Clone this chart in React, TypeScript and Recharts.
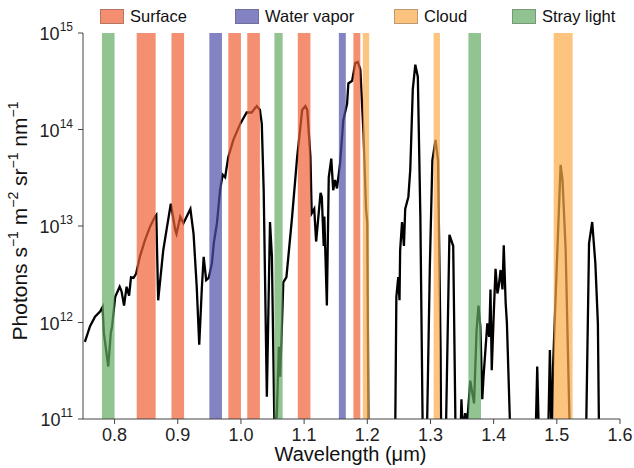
import React from "react";
import {
  ComposedChart,
  Line,
  XAxis,
  YAxis,
  ReferenceArea,
} from "recharts";

// spectrum, photons s-1 m-2 sr-1 nm-1 (5e10 / 1e10 = below the 1e11 floor, clipped)
const WAVELENGTH = [
  0.753, 0.761, 0.769, 0.777, 0.781, 0.783, 0.79, 0.794, 0.796, 0.801, 0.808, 0.811, 0.815, 0.819, 0.823,
  0.826, 0.83, 0.834, 0.84, 0.848, 0.856, 0.864, 0.866, 0.869, 0.877, 0.883, 0.889, 0.896, 0.898, 0.904,
  0.909, 0.914, 0.92, 0.925, 0.93, 0.934, 0.938, 0.941, 0.945, 0.949, 0.954, 0.957, 0.962, 0.967, 0.971,
  0.975, 0.98, 0.988, 0.999, 1.009, 1.017, 1.025, 1.03, 1.033, 1.036, 1.041, 1.046, 1.049, 1.0535, 1.057,
  1.06, 1.062, 1.065, 1.067, 1.072, 1.081, 1.089, 1.097, 1.102, 1.105, 1.11, 1.112, 1.116, 1.119, 1.126,
  1.128, 1.131, 1.132, 1.136, 1.139, 1.143, 1.146, 1.149, 1.152, 1.157, 1.162, 1.168, 1.17, 1.176, 1.181,
  1.185, 1.189, 1.194, 1.198, 1.2, 1.202, 1.222, 1.244, 1.246, 1.249, 1.251, 1.252, 1.255, 1.258, 1.26,
  1.265, 1.268, 1.272, 1.276, 1.28, 1.284, 1.288, 1.294, 1.299, 1.303, 1.308, 1.312, 1.316, 1.317, 1.324,
  1.33, 1.336, 1.34, 1.347, 1.349, 1.351, 1.355, 1.358, 1.363, 1.369, 1.373, 1.376, 1.379, 1.382, 1.384,
  1.387, 1.39, 1.393, 1.395, 1.397, 1.4, 1.403, 1.406, 1.408, 1.411, 1.414, 1.416, 1.419, 1.421, 1.427,
  1.447, 1.466, 1.469, 1.472, 1.486, 1.489, 1.492, 1.494, 1.5, 1.506, 1.509, 1.514, 1.521, 1.546, 1.551,
  1.556, 1.561, 1.565, 1.567,
];

const PHOTONS = [
  6.3e11, 9.1e11, 1.15e12, 1.3e12, 1.45e12, 7.8e11, 3.5e11, 7.8e11, 9.1e11, 1.85e12, 2.35e12, 2.1e12, 1.5e12, 2.35e12, 1.9e12,
  2.95e12, 2.9e12, 3.2e12, 4.8e12, 7.1e12, 9.8e12, 1.25e13, 1.3e13, 1.7e12, 5.6e12, 9.8e12, 1.7e13, 9.1e12, 8.3e12, 1.25e13,
  1.07e13, 1.25e13, 1.5e13, 8.3e12, 2.35e12, 5.9e11, 2.2e12, 4.8e12, 2.75e12, 2.9e12, 4.1e12, 6.6e12, 1.07e13, 2.35e13, 3.4e13,
  3.2e13, 5.2e13, 7.8e13, 1.15e14, 1.5e14, 1.5e14, 1.75e14, 1.6e14, 1.15e14, 2.35e13, 1.7e11, 1.1e13, 4.8e12, 5e10, 1.2e11,
  5.6e11, 2.75e11, 9.8e11, 2.6e12, 2.95e12, 1.25e13, 5.2e13, 1.6e14, 1.75e14, 1.6e14, 5.2e13, 1.35e13, 1.5e13, 6.9e12, 2.2e13,
  2e13, 6.2e12, 1.25e13, 1.5e12, 3.2e13, 5e13, 2.35e13, 3e13, 2.45e13, 4.5e13, 1.25e14, 1.85e14, 3e14, 3.2e14, 4.9e14,
  5e14, 4.2e14, 9.1e13, 1.5e13, 1.07e13, 5e10, 1e10, 5e10, 1.85e12, 2.95e12, 1.7e12, 5.6e12, 1.1e13, 6.2e12, 1.5e13,
  2e13, 3.8e13, 2.6e14, 4.7e14, 3.5e14, 1.25e13, 5e10, 5e10, 3.8e12, 4.8e13, 7.8e13, 4.8e13, 5.2e11, 5e10, 5e10,
  8.1e12, 6.2e12, 5e10, 5e10, 1.6e11, 8e10, 1.15e11, 9e10, 2.5e11, 1.45e11, 8.3e11, 1.5e12, 9.1e11, 1.6e11, 2.75e11,
  5.2e11, 9.8e11, 7.1e11, 2.2e12, 3.2e11, 1.15e12, 3.6e12, 2e12, 2.35e12, 3.5e12, 2.2e12, 6.3e12, 1.6e12, 9.8e11, 5e10,
  1e10, 5e10, 3.5e11, 5e10, 5e10, 5.2e11, 5e10, 3.5e11, 4e12, 4.3e13, 3e13, 5.6e12, 5e10, 5e10, 6.6e12,
  1.1e13, 4.1e12, 9.8e11, 5e10,
];

const SURFACE_BANDS = [[0.835, 0.865], [0.89, 0.91], [0.98, 1.0], [1.01, 1.03], [1.09, 1.11], [1.178, 1.189]];
const WATER_BANDS = [[0.95, 0.97], [1.155, 1.166]];
const CLOUD_BANDS = [[1.193, 1.203], [1.305, 1.315], [1.495, 1.525]];
const STRAY_BANDS = [[0.78, 0.8], [1.053, 1.066], [1.36, 1.38]];

const X_TICKS = [0.8, 0.9, 1.0, 1.1, 1.2, 1.3, 1.4, 1.5, 1.6];
const Y_TICKS = [1e11, 1e12, 1e13, 1e14, 1e15];

const LEGEND = ["Surface", "Water vapor", "Cloud", "Stray light"];

const FONT = "'Liberation Sans', Arial, sans-serif";
const COLORS = {
  surface: "rgb(239,95,52)",
  water: "rgb(79,79,171)",
  cloud: "rgb(252,171,74)",
  stray: "rgb(99,171,99)",
};
const LEGEND_COLORS = [COLORS.surface, COLORS.water, COLORS.cloud, COLORS.stray];
const LEGEND_LEFT = [100, 235, 394, 512];

const data = WAVELENGTH.map((w, i) => ({ w, p: PHOTONS[i] }));

const bandGroups = [
  { bands: SURFACE_BANDS, color: COLORS.surface },
  { bands: WATER_BANDS, color: COLORS.water },
  { bands: CLOUD_BANDS, color: COLORS.cloud },
  { bands: STRAY_BANDS, color: COLORS.stray },
];

const YTick = (props: any) => {
  const { x, y, payload } = props;
  const exp = Math.round(Math.log10(payload.value));
  return (
    <text x={x - 3} y={y + 7} textAnchor="end" fontSize={18} fill="#222" fontFamily={FONT}>
      <tspan>10</tspan>
      <tspan dy={-9} fontSize={12}>{exp}</tspan>
    </text>
  );
};

const YLabel = () => (
  <text
    x={27}
    y={221}
    transform="rotate(-90 27 221)"
    textAnchor="middle"
    fontSize={21}
    fill="#111"
    fontFamily={FONT}
  >
    <tspan>Photons s</tspan>
    <tspan dy={-9} fontSize={14}>−1</tspan>
    <tspan dy={9}> m</tspan>
    <tspan dy={-9} fontSize={14}>−2</tspan>
    <tspan dy={9}> sr</tspan>
    <tspan dy={-9} fontSize={14}>−1</tspan>
    <tspan dy={9}> nm</tspan>
    <tspan dy={-9} fontSize={14}>−1</tspan>
  </text>
);

const XLabel = (props: any) => {
  const vb = props.viewBox || { x: 83, y: 419, width: 537, height: 49 };
  return (
    <text
      x={vb.x + vb.width / 2 - 1}
      y={vb.y + 42}
      textAnchor="middle"
      fontSize={20}
      fill="#111"
      fontFamily={FONT}
    >
      Wavelength (μm)
    </text>
  );
};

export default function App() {
  return (
    <div style={{ position: "absolute", left: 0, top: 0, width: 634, height: 468, background: "#fff" }}>
      {LEGEND.map((name, i) => (
        <div
          key={name}
          style={{
            position: "absolute",
            left: LEGEND_LEFT[i],
            top: 7,
            display: "flex",
            alignItems: "center",
            fontFamily: FONT,
            fontSize: 16.5,
            color: "#111",
          }}
        >
          <span
            style={{
              display: "inline-block",
              width: 22,
              height: 13,
              background: LEGEND_COLORS[i],
              opacity: 0.7,
              border: "1px solid rgba(0,0,0,0.35)",
              marginRight: 6,
            }}
          />
          <span>{name}</span>
        </div>
      ))}
      <ComposedChart
        width={634}
        height={468}
        data={data}
        margin={{ top: 33, right: 14, left: 0, bottom: 0 }}
      >
        <XAxis
          dataKey="w"
          type="number"
          domain={[0.75, 1.6]}
          ticks={X_TICKS}
          tickFormatter={(v: number) => v.toFixed(1)}
          height={49}
          stroke="#444"
          tick={{ fill: "#222", fontSize: 18, fontFamily: FONT, dy: 2 }}
          tickSize={5}
          label={<XLabel />}
          allowDataOverflow
        />
        <XAxis
          xAxisId="top"
          orientation="top"
          type="number"
          domain={[0.75, 1.6]}
          height={0}
          tick={false}
          tickLine={false}
          stroke="#444"
        />
        <YAxis
          type="number"
          scale="log"
          domain={[1e11, 1e15]}
          ticks={Y_TICKS}
          allowDataOverflow
          width={83}
          stroke="#444"
          tick={<YTick />}
          tickSize={5}
          label={<YLabel />}
        />
        <YAxis
          yAxisId="right"
          orientation="right"
          width={0}
          tick={false}
          tickLine={false}
          stroke="#444"
        />
        <Line
          dataKey="p"
          type="linear"
          stroke="#000"
          strokeWidth={2.3}
          dot={false}
          isAnimationActive={false}
        />
        {bandGroups.map((g) =>
          g.bands.map(([a, b]) => (
            <ReferenceArea
              key={`${g.color}-${a}`}
              x1={a}
              x2={b}
              y1={1e11}
              y2={1e15}
              fill={g.color}
              fillOpacity={0.7}
              stroke="none"
              ifOverflow="hidden"
              {...({ zIndex: 450 } as any)}
            />
          ))
        )}
      </ComposedChart>
    </div>
  );
}
